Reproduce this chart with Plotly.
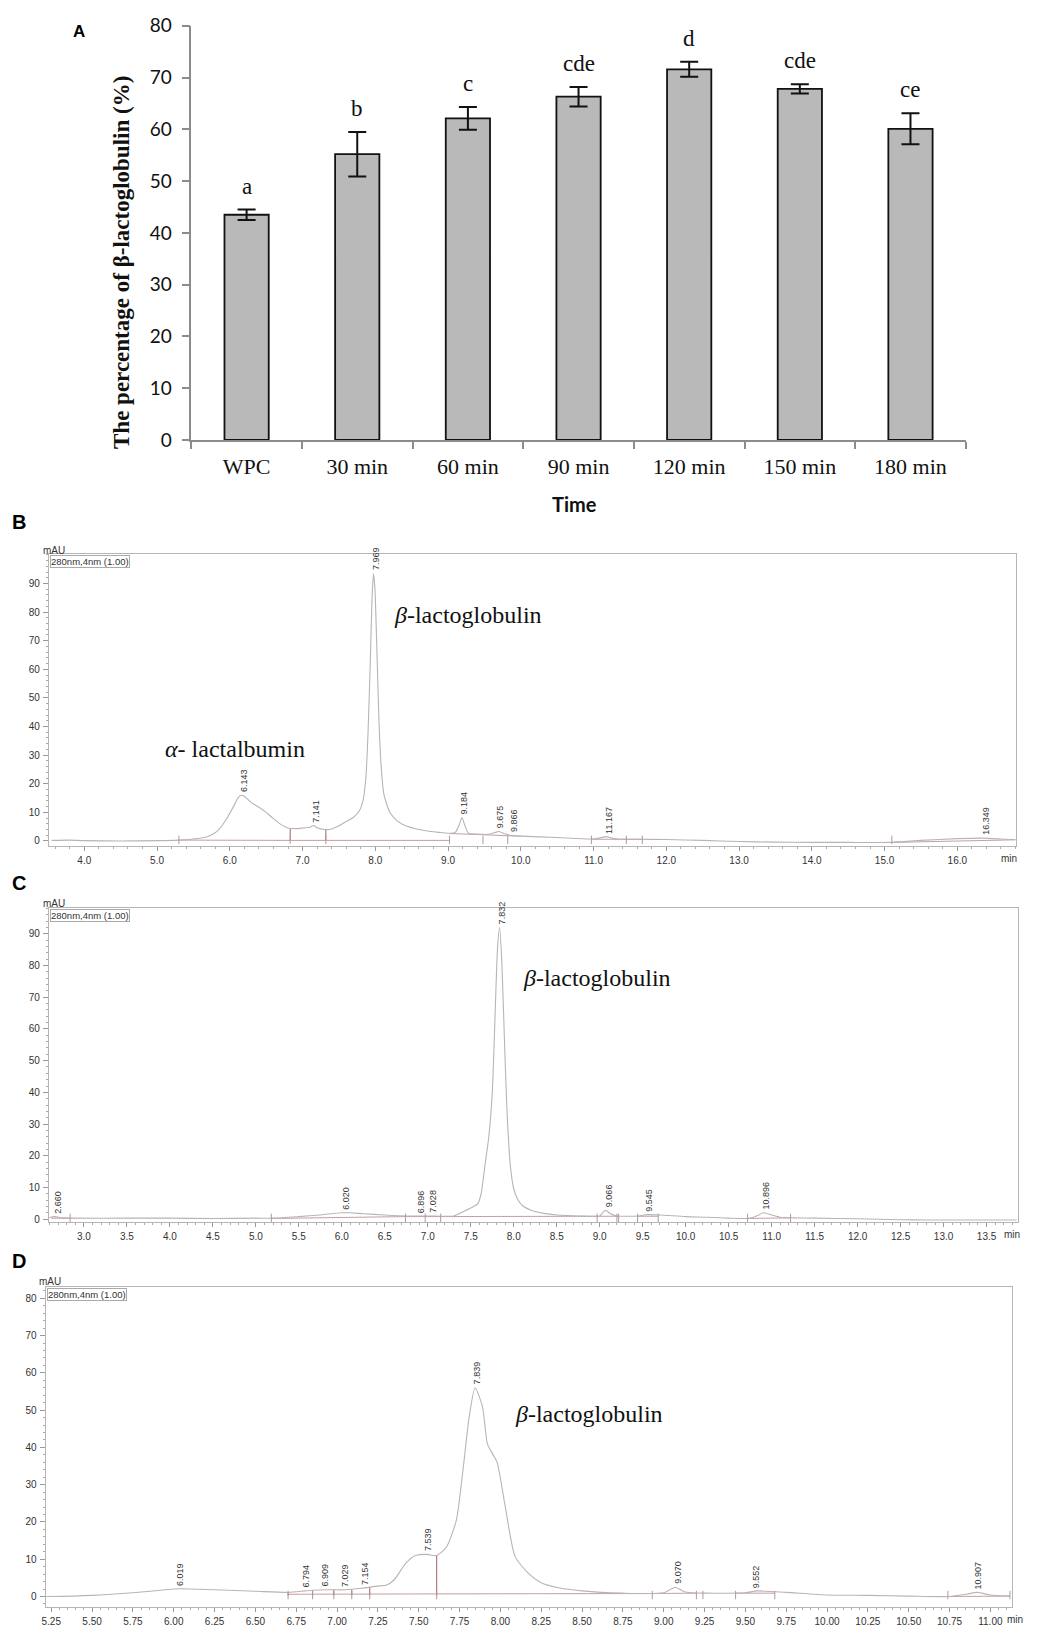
import plotly.graph_objects as go

W, H = 1045, 1637

# ---------------- Panel A data ----------------
categories = ["WPC", "30 min", "60 min", "90 min", "120 min", "150 min", "180 min"]
beta_pct = [43.5, 55.2, 62.1, 66.3, 71.6, 67.8, 60.1]
beta_err = [1.0, 4.3, 2.2, 1.9, 1.45, 0.9, 3.0]
sig_letters = ["a", "b", "c", "cde", "d", "cde", "ce"]
a_yticks = [0, 10, 20, 30, 40, 50, 60, 70, 80]

# ---------------- Panel B data (chromatogram, WPC) ----------------
B_t = [3.55, 3.8, 4.0, 4.5, 5.0, 5.3, 5.5, 5.65, 5.75, 5.85, 5.95, 6.05, 6.12, 6.16, 6.22, 6.3, 6.4, 6.5,
       6.6, 6.7, 6.8, 6.9, 7.0, 7.1, 7.15, 7.2, 7.3, 7.4, 7.5, 7.6, 7.7, 7.78, 7.83, 7.87, 7.9, 7.93,
       7.955, 7.975, 7.995, 8.02, 8.05, 8.08, 8.12, 8.2, 8.3, 8.4, 8.6, 8.8, 9.0, 9.1, 9.15, 9.19, 9.23,
       9.28, 9.4, 9.55, 9.65, 9.7, 9.78, 9.87, 10.0, 10.5, 11.0, 11.1, 11.17, 11.25, 11.35, 11.6, 12.0,
       12.5, 13.0, 13.5, 14.0, 14.5, 15.1, 15.5, 16.0, 16.35, 16.6, 16.8]
B_mAU = [0.2, 0.3, 0.1, 0.0, 0.1, 0.3, 0.7, 1.2, 2.2, 4.0, 7.5, 12.0, 15.3, 16.0, 15.2, 13.3, 11.8, 10.0,
         7.8, 5.8, 4.5, 4.3, 4.5, 4.8, 5.4, 4.6, 4.0, 4.2, 5.3, 6.8, 8.3, 10.5, 14.0, 22.0, 38.0, 62.0,
         85.0, 93.5, 88.0, 68.0, 42.0, 26.0, 16.0, 10.0, 7.0, 5.5, 4.0, 3.2, 2.7, 3.0, 5.5, 8.2, 5.5,
         2.7, 2.4, 2.3, 3.0, 3.3, 2.5, 1.9, 1.7, 1.2, 0.7, 1.1, 1.5, 1.0, 0.6, 0.6, 0.5,
         0.2, -0.2, -0.4, -0.5, -0.5, -0.5, 0.2, 0.8, 1.0, 0.7, 0.4]
B_base_t = [5.3, 6.83, None, 6.83, 7.32, None, 7.32, 9.02, None, 9.02, 9.48, None, 9.48, 9.82, None,
            9.82, 10.0, None, 10.97, 11.45, None, 11.45, 11.67, None, 15.1, 16.8]
B_base_y = [0.3, 0.2, None, 0.2, 0.2, None, 0.2, 0.2, None, 2.6, 2.2, None, 2.2, 1.8, None,
            1.8, 1.7, None, 0.6, 0.6, None, 0.6, 0.6, None, -0.5, 0.4]
B_drop_t = [6.83, 7.32]
B_drop_top = [4.4, 4.0]
B_bounds = [5.3, 6.83, 7.32, 9.02, 9.48, 9.82, 10.97, 11.45, 11.67, 15.1]
B_peaks = [6.143, 7.141, 7.969, 9.184, 9.675, 9.866, 11.167, 16.349]
B_peak_h = [16.0, 5.4, 93.5, 8.2, 3.3, 1.9, 1.5, 1.0]

# ---------------- Panel C data ----------------
C_t = [2.6, 2.66, 2.75, 2.9, 3.5, 4.0, 4.5, 5.0, 5.2, 5.5, 5.75, 6.0, 6.1, 6.25, 6.5, 6.75, 7.0, 7.3,
       7.4, 7.5, 7.58, 7.62, 7.67, 7.71, 7.75, 7.78, 7.81, 7.835, 7.86, 7.89, 7.92, 7.96, 8.0, 8.05,
       8.1, 8.2, 8.35, 8.5, 8.75, 9.0, 9.04, 9.07, 9.12, 9.2, 9.45, 9.55, 9.7, 10.0, 10.25, 10.5,
       10.75, 10.85, 10.9, 11.0, 11.1, 11.25, 11.5, 12.0, 12.5, 12.8, 13.0, 13.5, 13.85]
C_mAU = [0.5, 0.8, 0.4, 0.3, 0.3, 0.3, 0.2, 0.3, 0.3, 0.8, 1.3, 2.0, 2.0, 1.7, 1.3, 1.0, 1.0, 1.0,
         2.2, 3.5, 4.8, 8.0, 18.0, 26.0, 40.0, 62.0, 85.0, 92.0, 82.0, 58.0, 35.0, 17.0, 9.5, 6.0,
         4.3, 2.8, 1.8, 1.3, 1.0, 1.0, 2.2, 2.8, 1.8, 1.0, 1.0, 1.4, 1.3, 0.8, 0.6, 0.3,
         0.3, 1.3, 2.0, 1.3, 0.6, 0.4, 0.3, 0.1, -0.2, -0.3, -0.3, -0.3, -0.3]
C_base_t = [2.62, 2.84, None, 5.18, 6.74, None, 6.74, 6.97, None, 6.97, 7.15, None, 7.15, 8.97, None,
            8.97, 9.22, None, 9.44, 9.68, None, 10.72, 11.22]
C_base_y = [0.3, 0.3, None, 0.2, 0.8, None, 0.8, 0.8, None, 0.8, 0.8, None, 0.8, 0.9, None,
            0.9, 0.9, None, 0.9, 0.9, None, 0.2, 0.4]
C_bounds = [2.84, 5.18, 6.74, 6.97, 7.15, 8.97, 9.2, 9.22, 9.44, 9.68, 10.72, 11.22]
C_peaks = [2.660, 6.020, 6.896, 7.028, 7.832, 9.066, 9.545, 10.896]
C_peak_h = [0.8, 2.0, 1.0, 1.0, 92.0, 2.8, 1.4, 2.0]

# ---------------- Panel D data ----------------
D_t = [5.2, 5.25, 5.5, 5.75, 6.0, 6.05, 6.25, 6.5, 6.7, 6.8, 6.85, 6.95, 7.05, 7.15, 7.25, 7.3, 7.35,
       7.42, 7.48, 7.55, 7.61, 7.67, 7.73, 7.77, 7.81, 7.845, 7.89, 7.92, 7.95, 7.98, 8.03, 8.09,
       8.17, 8.25, 8.35, 8.5, 8.75, 9.0, 9.07, 9.13, 9.25, 9.5, 9.57, 9.75, 10.0, 10.25, 10.5,
       10.75, 10.85, 10.92, 11.0, 11.12]
D_mAU = [0.0, 0.0, 0.3, 1.0, 2.0, 2.1, 1.8, 1.4, 1.1, 1.5, 1.7, 1.8, 1.8, 2.2, 2.8, 3.0, 4.5,
         8.9, 11.0, 11.3, 11.0, 13.3, 20.4, 33.6, 48.6, 56.0, 51.0, 41.0, 38.4, 36.0, 24.0, 10.7,
         6.3, 3.7, 2.4, 1.5, 0.9, 1.0, 2.5, 1.2, 0.9, 1.0, 1.5, 1.1, 0.4, 0.3, 0.1,
         0.0, 0.6, 1.1, 0.4, 0.1]
D_base_t = [6.7, 7.61, None, 7.61, 8.93, None, 8.93, 9.2, None, 9.44, 9.68, None, 10.74, 11.12]
D_base_y = [0.6, 0.7, None, 0.7, 0.8, None, 0.8, 0.9, None, 0.9, 0.9, None, 0.0, 0.1]
D_drop_t = [6.7, 6.85, 6.98, 7.09, 7.2, 7.61]
D_drop_top = [1.1, 1.7, 1.8, 1.9, 2.5, 11.0]
D_bounds = [6.7, 6.85, 6.98, 7.09, 7.2, 7.61, 8.93, 9.2, 9.24, 9.44, 9.68, 10.74, 11.12]
D_peaks = [6.019, 6.794, 6.909, 7.029, 7.154, 7.539, 7.839, 9.070, 9.552, 10.907]
D_peak_h = [2.1, 1.6, 1.8, 1.8, 2.2, 11.3, 56.0, 2.5, 1.5, 1.1]


def px(x):
    return x / W


def py(y):
    return 1 - y / H


fig = go.Figure()

# ---- Panel A ----
fig.add_trace(go.Bar(
    x=categories, y=beta_pct, width=0.4,
    marker=dict(color="#b9b9b9", line=dict(color="#111111", width=1.8)),
    error_y=dict(type="data", array=beta_err, color="#111111", thickness=2, width=9),
    xaxis="x", yaxis="y", showlegend=False, hoverinfo="skip"))

CURVE = "#bbb3b3"
BASE = "#b98585"
MARK = "#b09a9a"


def chrom(t, y, bt, by, bounds, drops, drop_top, xa, ya):
    fig.add_trace(go.Scatter(x=bt, y=by, mode="lines", line=dict(color=BASE, width=0.8),
                             xaxis=xa, yaxis=ya, showlegend=False, hoverinfo="skip"))
    if drops:
        dx, dy = [], []
        for t0, h in zip(drops, drop_top):
            dx += [t0, t0, None]
            dy += [0.3, h, None]
        fig.add_trace(go.Scatter(x=dx, y=dy, mode="lines", line=dict(color="#a06060", width=1),
                                 xaxis=xa, yaxis=ya, showlegend=False, hoverinfo="skip"))
    fig.add_trace(go.Scatter(x=t, y=y, mode="lines",
                             line=dict(color=CURVE, width=1.1, shape="spline", smoothing=0.6),
                             xaxis=xa, yaxis=ya, showlegend=False, hoverinfo="skip"))
    fig.add_trace(go.Scatter(x=bounds, y=[0.4] * len(bounds), mode="markers",
                             marker=dict(symbol="line-ns-open", size=6, color=MARK,
                                         line=dict(color=MARK, width=1)),
                             xaxis=xa, yaxis=ya, showlegend=False, hoverinfo="skip"))


chrom(B_t, B_mAU, B_base_t, B_base_y, B_bounds, B_drop_t, B_drop_top, "x2", "y2")
chrom(C_t, C_mAU, C_base_t, C_base_y, C_bounds, [], [], "x3", "y3")
chrom(D_t, D_mAU, D_base_t, D_base_y, D_bounds, D_drop_t, D_drop_top, "x4", "y4")

ann = []
# Panel A letters
for c, v, e, l in zip(categories, beta_pct, beta_err, sig_letters):
    ann.append(dict(x=c, y=v + e, xref="x", yref="y", text=l, showarrow=False, yanchor="bottom",
                    xanchor="center", yshift=9, font=dict(family="Liberation Serif", size=23, color="#111")))

# peak labels
for peaks, hs, xa, ya in [(B_peaks, B_peak_h, "x2", "y2"), (C_peaks, C_peak_h, "x3", "y3"),
                          (D_peaks, D_peak_h, "x4", "y4")]:
    for p, h in zip(peaks, hs):
        ann.append(dict(x=p, y=h, xref=xa, yref=ya, text=f"{p:.3f}", textangle=-90, showarrow=False,
                        yanchor="bottom", xanchor="center", xshift=3, yshift=1,
                        font=dict(family="Liberation Sans", size=9, color="#333")))

SERIF = "Liberation Serif"


def pann(text, x, y, font, **kw):
    d = dict(x=px(x), y=py(y), xref="paper", yref="paper", text=text, showarrow=False,
             xanchor="center", yanchor="middle", font=font)
    d.update(kw)
    ann.append(d)


# panel letters
for t, x, y, s in [("A", 75, 20, 17), ("B", 15, 517, 20), ("C", 15, 883, 20), ("D", 15, 1267, 20)]:
    pann(f"<b>{t}</b>", x, y, dict(family="Liberation Sans", size=s, color="#000"))

# A axis titles
pann("<b>The percentage of β-lactoglobulin (%)</b>", 118, 254, dict(family=SERIF, size=23, color="#111"),
     textangle=-90)
pann("<b>Time</b>", 573, 499, dict(family="Lato", size=20, color="#111"))

# chromatogram labels
for x, y in [(50, 546), (50, 904), (46, 1288)]:
    pann("mAU", x, y, dict(family="Liberation Sans", size=10, color="#333"))
for x, y in [(46, 551), (46, 910), (43, 1294)]:
    pann("280nm,4nm (1.00)", x, y, dict(family="Liberation Sans", size=9.5, color="#333"),
         xanchor="left", yanchor="top", bordercolor="#aaa", borderwidth=1, borderpad=0)

MINF = dict(family="Liberation Sans", size=10, color="#333")
ann.append(dict(x=px(1009), y=-1.8, xref="paper", yref="y2", text="min", showarrow=False,
                xanchor="center", yanchor="top", yshift=-5, font=MINF))
ann.append(dict(x=px(1012), y=-0.93, xref="paper", yref="y3", text="min", showarrow=False,
                xanchor="center", yanchor="top", yshift=-5, font=MINF))
ann.append(dict(x=11.0, y=-2.7, xref="x4", yref="y4", text="min", showarrow=False,
                xanchor="center", yanchor="top", yshift=-5, xshift=25, font=MINF))

for text, x, y in [("<i>β</i>-lactoglobulin", 466, 612), ("<i>α</i>- lactalbumin", 232, 747),
                   ("<i>β</i>-lactoglobulin", 595, 980), ("<i>β</i>-lactoglobulin", 587, 1422)]:
    pann(text, x, y, dict(family=SERIF, size=24, color="#111"))

TICKF = dict(family="Liberation Sans", size=10, color="#333")
FRAME = "#b5b5b5"


def chrom_axes(xdom, ydom, xr, yr, dtick, mdtick, fmt, ymax_tick):
    xa = dict(domain=xdom, range=xr, dtick=dtick, tick0=0, tickformat=fmt, showgrid=False, zeroline=False,
              showline=True, linecolor=FRAME, linewidth=1, mirror=True, ticks="outside", ticklen=4,
              tickcolor="#999", tickfont=TICKF, ticklabelstandoff=1,
              minor=dict(dtick=mdtick, ticks="outside", ticklen=2, tickcolor="#aaa"))
    ya = dict(domain=ydom, range=yr, tickmode="array", tickvals=list(range(0, ymax_tick + 1, 10)),
              showgrid=False, zeroline=False, showline=True, linecolor=FRAME, linewidth=1, mirror=True,
              ticks="outside", ticklen=5, tickcolor="#999", tickfont=TICKF, ticklabelstandoff=1,
              minor=dict(dtick=2, tick0=0, ticks="outside", ticklen=2, tickcolor="#aaa"))
    return xa, ya


x2, y2 = chrom_axes([px(45), px(1016)], [py(846), py(550)], [3.512, 16.808], [-1.8, 100.2], 1, 0.2, ".1f", 90)
x3, y3 = chrom_axes([px(45), px(1017.7)], [py(1227.3), py(909)], [2.592, 13.863], [-0.93, 98.1], 0.5, 0.1, ".1f", 90)
x4, y4 = chrom_axes([px(41.7), px(1012.3)], [py(1617.3), py(1293.3)], [5.215, 11.135], [-2.7, 83.0], 0.25, 0.05, ".2f", 80)

fig.update_layout(
    width=W, height=H, margin=dict(l=0, r=0, t=0, b=0),
    paper_bgcolor="white", plot_bgcolor="white", showlegend=False,
    xaxis=dict(domain=[px(188), px(965.5)], type="category", range=[-0.5, 6.5], showgrid=False,
               showline=True, linecolor="#8c8c8c", linewidth=1.5, ticks="outside", tickson="boundaries",
               ticklen=7, tickcolor="#8c8c8c", tickwidth=1.5,
               tickfont=dict(family=SERIF, size=22, color="#111"), ticklabelstandoff=6),
    yaxis=dict(domain=[py(434), py(14)], range=[0, 80], tickvals=a_yticks, showgrid=False, zeroline=False,
               showline=True, linecolor="#8c8c8c", linewidth=1.5, ticks="outside", ticklen=8,
               tickcolor="#8c8c8c", tickwidth=1.5, tickfont=dict(family="Lato", size=19, color="#111"),
               ticklabelstandoff=6),
    xaxis2={**x2, "anchor": "y2"}, yaxis2={**y2, "anchor": "x2"},
    xaxis3={**x3, "anchor": "y3"}, yaxis3={**y3, "anchor": "x3"},
    xaxis4={**x4, "anchor": "y4"}, yaxis4={**y4, "anchor": "x4"},
    annotations=ann,
)

fig.write_html("out.html", config={"displayModeBar": False},
               post_script="document.body.style.margin='0';")
